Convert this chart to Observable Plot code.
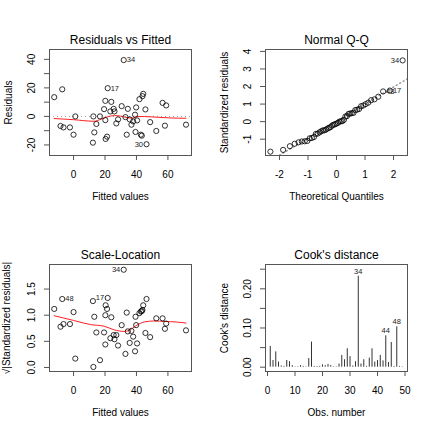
<!DOCTYPE html>
<html><head><meta charset="utf-8">
<script src="https://cdn.jsdelivr.net/npm/d3@7"></script>
<script src="https://cdn.jsdelivr.net/npm/@observablehq/plot@0.6"></script>
<style>
body{margin:0;background:#fff;}
#grid{display:grid;grid-template-columns:216px 216px;grid-template-rows:216px 216px;width:432px;height:432px;}
#grid svg{display:block}
</style></head><body><div id="grid"></div>
<script>
// ---- data ----
const fitted = [-12.3,-7.2,-8.3,-6.4,-2.3,0,1.1,12.6,13.2,12.3,14.5,16.8,20.2,20.4,21.3,19.4,20.2,21.7,24,23.4,25.5,26,27.2,28.3,30.6,31.9,33,33.8,34.5,35.7,36.8,37.9,39.1,39.8,39.4,40.4,41.9,42.8,43.4,43.8,44.3,45.7,46.4,48.7,52.6,56.6,58.9,58.1,71.5];
const residuals = [13.5,19,-6.7,-7.7,-7.7,-12.8,0,0,-11.2,-18.4,-5.3,0,-2.6,-15.8,-14.2,5.1,10.9,19.8,10.2,3.5,5.3,3.5,-4.9,-2.1,7.2,39.5,-0.5,-12.8,5.3,-2.1,-5.8,-3.5,1.2,6.3,-10.9,-2.8,12.1,-12.8,-13.5,14.2,15.8,4.9,-19.5,-4,-10.2,9.5,7.7,-6.5,-5.8];
const sqrtStdResid = [1.12,1.31,0.78,0.83,0.83,1.06,0.17,0.01,0.97,1.27,0.67,0.14,0.44,1.19,1.12,0.67,1.0,1.33,0.96,0.56,0.62,0.54,0.62,0.42,0.81,1.87,0.26,1.05,0.69,0.47,0.70,0.59,0.31,0.81,0.97,0.46,1.04,1.07,1.08,1.10,1.19,0.66,1.31,0.58,0.94,0.94,0.84,0.74,0.71];
const pointIds = [null,"48",null,null,null,null,null,null,null,null,null,null,null,null,null,null,null,"17",null,null,null,null,null,null,null,"34",null,null,null,null,null,null,null,null,null,null,null,null,null,null,null,null,"30",null,null,null,null,null,null];

const rvfSmoothX = [-12.3,0,13,17.4,21.3,26,30,34.5,37.7,40.4,45,53.6,62,71.5];
const rvfSmoothY = [-1.5,-2.3,-3.4,-2.0,-0.4,0.6,0.2,-1.0,-1.2,-0.1,-0.1,-0.6,-1.1,-1.3];
const slSmoothX = [-12.3,0,10.9,19.4,25.8,32.2,35.4,39.7,45,51.4,57.8,65.2,71.5];
const slSmoothY = [0.99,0.90,0.82,0.79,0.72,0.69,0.71,0.80,0.87,0.89,0.88,0.87,0.85];

const theoQuant = [-2.319,-1.872,-1.635,-1.465,-1.330,-1.215,-1.114,-1.024,-0.940,-0.864,-0.792,-0.724,-0.659,-0.596,-0.536,-0.478,-0.421,-0.366,-0.312,-0.259,-0.206,-0.154,-0.103,-0.051,0,0.051,0.103,0.154,0.206,0.259,0.312,0.366,0.421,0.478,0.536,0.596,0.659,0.724,0.792,0.864,0.940,1.024,1.114,1.215,1.330,1.465,1.635,1.872,2.319];
const stdResidSorted = [-1.71,-1.61,-1.40,-1.26,-1.18,-1.13,-1.12,-1.10,-0.95,-0.93,-0.88,-0.70,-0.68,-0.61,-0.55,-0.50,-0.49,-0.45,-0.39,-0.35,-0.31,-0.22,-0.18,-0.15,-0.11,-0.07,0.00,0.02,0.03,0.10,0.29,0.31,0.44,0.46,0.48,0.50,0.66,0.68,0.72,0.88,0.92,1.00,1.08,1.22,1.27,1.42,1.72,1.77,3.49];
const qqIds = Array(49).fill(null); qqIds[46]="48"; qqIds[47]="17"; qqIds[48]="34";
const qqLineX = [-2.6,2.6];
const qqLineY = [-2.50,2.55];

const obsNumber = d3.range(1,50);
const cooksD = [0.053,0.017,0.039,0.013,0.003,0.002,0.017,0.014,0.004,0.001,0.001,0.004,0.002,0.001,0.022,0.064,0.002,0.002,0.002,0.006,0.004,0.007,0.004,0.001,0.001,0.008,0.030,0.019,0.047,0.027,0.003,0.014,0.232,0.008,0.019,0.002,0.023,0.047,0.013,0.017,0.030,0.016,0.080,0.012,0.063,0.002,0.103,0.002,0.001];
const cookIds = Array(49).fill(null); cookIds[32]="34"; cookIds[42]="44"; cookIds[46]="48";

// ---- drawing ----
const FONT = '"Liberation Sans", Arial, Helvetica, sans-serif';
const idx = d3.range(49);
const C = {textAnchor:"middle", lineAnchor:"middle"};

function panel(o){
  const fy = o.yFmt || (d=>String(d));
  return Plot.plot({
    width:216, height:216,
    marginTop:o.mt, marginBottom:216-o.mt-o.ph, marginLeft:49, marginRight:25,
    style:{fontFamily:FONT, fontSize:"10px", color:"#000", background:"#fff"},
    x:{domain:o.xd}, y:{domain:o.yd},
    marks:[
      ...o.marks,
      Plot.frame({stroke:"#555"}),
      Plot.axisX({ticks:o.xt, tickSize:5, tickPadding:10, label:null, tickFormat:d=>String(d), stroke:"#555", fill:"#000"}),
      Plot.axisY({ticks:o.yt, tickSize:5, label:null, tickFormat:()=>"", stroke:"#555"}),
      Plot.text(o.yl, {y:d=>d, text:fy, frameAnchor:"left", dx:-18, rotate:-90, fontSize:10, fill:"#000", ...C}),
      Plot.text([o.title], {text:d=>d, frameAnchor:"top", dy:-9, fontSize:12, fill:"#000", ...C}),
      Plot.text([o.xlab], {text:d=>d, frameAnchor:"bottom", dy:41, fontSize:10, fill:"#000", ...C}),
      Plot.text([o.ylab], {text:d=>d, frameAnchor:"left", dx:o.ylabDx ?? -41, rotate:-90, fontSize:10, fill:"#000", ...C})
    ]
  });
}

const dotStyle = {r:2.6, stroke:"#000", strokeWidth:0.8, fill:"none"};
const idStyle = {fontSize:7.5, fill:"#222", lineAnchor:"middle"};

const p1 = panel({
  mt:49, ph:106, xd:[-15.3,75], yd:[-27.4,46.9],
  xt:[0,20,40,60], yt:[-20,-10,0,10,20,30,40], yl:[-20,0,20,40],
  title:"Residuals vs Fitted", xlab:"Fitted values", ylab:"Residuals",
  marks:[
    Plot.ruleY([0], {stroke:"#999", strokeDasharray:"1,3"}),
    Plot.line(rvfSmoothX.map((x,i)=>[x,rvfSmoothY[i]]), {x:d=>d[0], y:d=>d[1], stroke:"#ff2020", strokeWidth:1, curve:"monotone-x"}),
    Plot.dot(idx, {x:i=>fitted[i], y:i=>residuals[i], ...dotStyle}),
    Plot.text(idx.filter(i=>pointIds[i]==="34"||pointIds[i]==="17"), {x:i=>fitted[i], y:i=>residuals[i], text:i=>pointIds[i], textAnchor:"start", dx:3, ...idStyle}),
    Plot.text(idx.filter(i=>pointIds[i]==="30"), {x:i=>fitted[i], y:i=>residuals[i], text:i=>pointIds[i], textAnchor:"end", dx:-3.5, ...idStyle})
  ]
});

const p2 = panel({
  mt:49, ph:106, xd:[-2.49,2.49], yd:[-1.93,4.11],
  xt:[-2,-1,0,1,2], yt:[-1,0,1,2,3,4], yl:[-1,0,1,2,3,4],
  title:"Normal Q-Q", xlab:"Theoretical Quantiles", ylab:"Standardized residuals",
  marks:[
    Plot.line(qqLineX.map((x,i)=>[x,qqLineY[i]]), {x:d=>d[0], y:d=>d[1], stroke:"#999", strokeDasharray:"1,3", clip:true}),
    Plot.dot(idx, {x:i=>theoQuant[i], y:i=>stdResidSorted[i], ...dotStyle}),
    Plot.text(idx.filter(i=>qqIds[i]==="34"), {x:i=>theoQuant[i], y:i=>stdResidSorted[i], text:i=>qqIds[i], textAnchor:"end", dx:-3.5, ...idStyle}),
    Plot.text(idx.filter(i=>qqIds[i]==="48"||qqIds[i]==="17"), {x:i=>theoQuant[i], y:i=>stdResidSorted[i], text:i=>qqIds[i], textAnchor:"start", dx:3, ...idStyle})
  ]
});

const p3 = panel({
  mt:48, ph:107, xd:[-15.3,75], yd:[-0.077,1.97],
  xt:[0,20,40,60], yt:[0,0.5,1,1.5], yl:[0,0.5,1,1.5], yFmt:d=>d.toFixed(1),
  title:"Scale-Location", xlab:"Fitted values", ylab:"√|Standardized residuals|", ylabDx:-43,
  marks:[
    Plot.line(slSmoothX.map((x,i)=>[x,slSmoothY[i]]), {x:d=>d[0], y:d=>d[1], stroke:"#ff2020", strokeWidth:1, curve:"monotone-x"}),
    Plot.dot(idx, {x:i=>fitted[i], y:i=>sqrtStdResid[i], ...dotStyle}),
    Plot.text(idx.filter(i=>pointIds[i]==="34"||pointIds[i]==="17"), {x:i=>fitted[i], y:i=>sqrtStdResid[i], text:i=>pointIds[i], textAnchor:"end", dx:-3.5, ...idStyle}),
    Plot.text(idx.filter(i=>pointIds[i]==="48"), {x:i=>fitted[i], y:i=>sqrtStdResid[i], text:i=>pointIds[i], textAnchor:"start", dx:3, ...idStyle})
  ]
});

const p4 = panel({
  mt:48, ph:107, xd:[-0.73,50.9], yd:[-0.011,0.262],
  xt:[0,10,20,30,40,50], yt:[0,0.05,0.1,0.15,0.2,0.25], yl:[0,0.1,0.2], yFmt:d=>d.toFixed(2),
  title:"Cook's distance", xlab:"Obs. number", ylab:"Cook's distance",
  marks:[
    Plot.ruleX(idx, {x:i=>obsNumber[i], y1:0, y2:i=>cooksD[i], stroke:"#333", strokeWidth:1}),
    Plot.text(idx.filter(i=>cookIds[i]), {x:i=>obsNumber[i], y:i=>cooksD[i], text:i=>cookIds[i], dy:-5, textAnchor:"middle", ...idStyle})
  ]
});

const g = document.getElementById("grid");
[p1,p2,p3,p4].forEach(p=>g.appendChild(p));
</script></body></html>
